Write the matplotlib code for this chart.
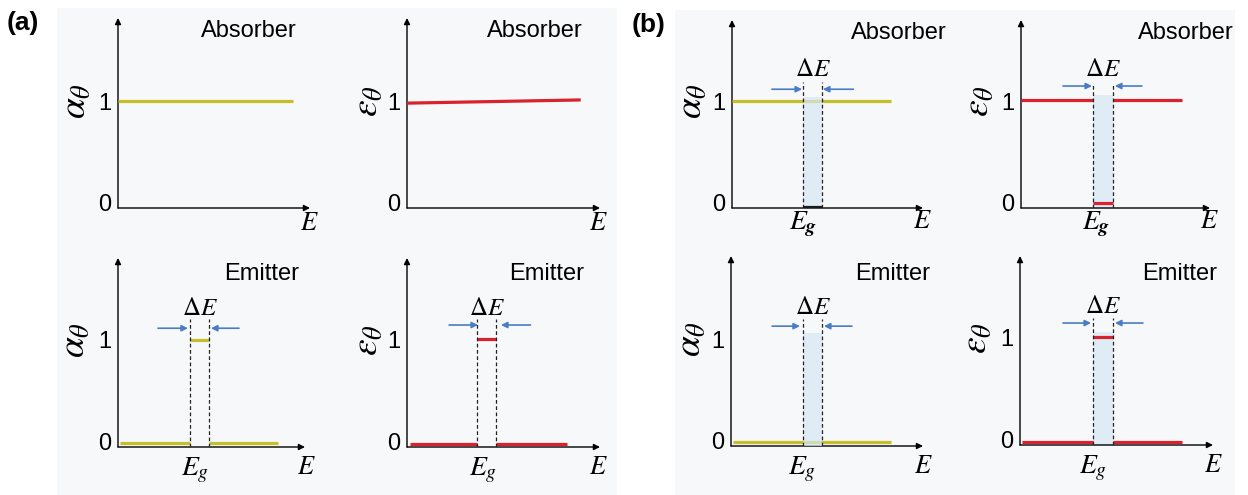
import io
import matplotlib
matplotlib.use("Agg")
import matplotlib.pyplot as plt
from matplotlib.patches import Rectangle
from matplotlib import mathtext

plt.rcParams['font.family'] = ['Liberation Sans', 'DejaVu Sans']
plt.rcParams['mathtext.fontset'] = 'stix'

W, H = 1248, 495

YELLOW = '#c3c02a'
RED = '#d8222e'
BLUE = '#4a7cc6'
SHADE = '#d6e6f3'
BG = '#f7f8fa'

# segments: (x start, x end, y start, y end), x axis runs 0..10, y level 1 = "1"
a_abs_alpha = [(0.0, 9.1, 1.0, 1.0)]
a_abs_eps = [(0.0, 9.0, 0.98, 1.01)]
a_emi_alpha = [(0.1, 3.85, 0.035, 0.035), (3.85, 4.87, 1.0, 1.0), (4.87, 8.56, 0.035, 0.035)]
a_emi_eps = [(0.15, 3.63, 0.025, 0.025), (3.63, 4.61, 1.01, 1.01), (4.61, 8.29, 0.025, 0.025)]
b_abs_alpha = [(0.0, 8.32, 1.0, 1.0)]
b_abs_alpha_gap = [(3.72, 4.71, 0.01, 0.01)]
b_abs_eps = [(0.0, 3.81, 1.01, 1.01), (3.81, 4.87, 0.05, 0.05), (4.87, 8.52, 1.01, 1.01)]
b_emi_alpha = [(0.1, 8.33, 0.04, 0.04)]
b_emi_eps = [(0.1, 3.78, 0.03, 0.03), (3.78, 4.82, 1.01, 1.01), (4.82, 8.39, 0.03, 0.03)]

# gap edges (x) for each panel with a window
gap_a_emi_alpha = (3.85, 4.87)
gap_a_emi_eps = (3.63, 4.61)
gap_b_abs_alpha = (3.72, 4.71)
gap_b_abs_eps = (3.81, 4.87)
gap_b_emi_alpha = (3.75, 4.74)
gap_b_emi_eps = (3.78, 4.82)

# bold italic g if mathtext knows \mathbfit
try:
    mathtext.math_to_image(r'$E_{\mathbfit{g}}$', io.BytesIO(), prop=None, format='png')
    EG_BOLD = r'$E_{\mathbfit{g}}$'
except Exception:
    EG_BOLD = r'$E_{\mathbf{g}}$'

fig = plt.figure(figsize=(W / 100, H / 100), dpi=100)
fig.patches.append(Rectangle((57 / W, 0), 560 / W, 487 / H, transform=fig.transFigure,
                             facecolor=BG, edgecolor='none', zorder=-10))
fig.patches.append(Rectangle((675 / W, 0), 560 / W, 485 / H, transform=fig.transFigure,
                             facecolor=BG, edgecolor='none', zorder=-10))
fig.text(7 / W, 1 - 23 / H, '(a)', fontsize=19, fontweight='bold', va='center')
fig.text(632 / W, 1 - 25 / H, '(b)', fontsize=19, fontweight='bold', va='center')


def make_ax(x0, x1, y0, ytop):
    ax = fig.add_axes([x0 / W, 1 - y0 / H, (x1 - x0) / W, (y0 - ytop) / H])
    ax.set_xlim(0, 10)
    ax.set_ylim(0, (y0 - ytop) / 107)
    ax.patch.set_visible(False)
    for s in ax.spines.values():
        s.set_visible(False)
    ax.set_xticks([])
    ax.set_yticks([0.05, 1])
    ax.set_yticklabels(['0', '1'])
    ax.tick_params(axis='y', length=0, pad=5, labelsize=17)
    arr = dict(arrowstyle='-|>', color='k', lw=1.0, mutation_scale=9, shrinkA=0, shrinkB=0)
    ax.annotate('', xy=(10, 0), xytext=(0, 0), arrowprops=arr, annotation_clip=False)
    ax.annotate('', xy=(0, ax.get_ylim()[1]), xytext=(0, 0), arrowprops=arr, annotation_clip=False)
    return ax


def draw(ax, segs, color, z=3):
    for xs, xe, ys, ye in segs:
        ax.plot([xs, xe], [ys, ye], color=color, lw=2.3, solid_capstyle='butt', zorder=z)


def window(ax, gap, shade_top, dash_top, arrow_y, arrows, shade=True, shade_z=2):
    g0, g1 = gap
    if shade:
        ax.fill_between([g0, g1], 0, shade_top, color=SHADE, alpha=0.7, lw=0, zorder=shade_z)
    for g in gap:
        ax.plot([g, g], [0, dash_top], color='#222222', lw=0.9, ls=(0, (3, 2)), zorder=5)
    (l0, l1), (r0, r1) = arrows
    ap = dict(arrowstyle='-|>', color=BLUE, lw=1.2, mutation_scale=9, shrinkA=0, shrinkB=0)
    ax.annotate('', xy=(l1, arrow_y), xytext=(l0, arrow_y), arrowprops=ap)
    ax.annotate('', xy=(r1, arrow_y), xytext=(r0, arrow_y), arrowprops=ap)
    ax.text((g0 + g1) / 2, 1.3, r'$\Delta E$', fontsize=18, ha='center', va='center')


def labels(ax, ylab, ylab_x, title, title_x, title_y, e_x, e_y, eg=None, bold=False):
    ax.text(ylab_x, 1.0, ylab, fontsize=27, rotation=90, ha='center', va='center')
    ax.text(title_x, title_y, title, fontsize=17, ha='right', va='center')
    ax.text(e_x, e_y, r'$E$', fontsize=19, ha='center', va='center')
    if eg is not None:
        s = EG_BOLD if bold else r'$E_g$'
        ax.text(eg, e_y - 0.03, s, fontsize=20, ha='center', va='center')


alpha_lab = r'$\alpha_\theta$'
eps_lab = r'$\varepsilon_\theta$'

# ---- (a)
ax = make_ax(118, 310, 208, 18)
draw(ax, a_abs_alpha, YELLOW)
labels(ax, alpha_lab, -2.2, 'Absorber', 9.3, 1.65, 9.95, -0.14)

ax = make_ax(407, 600, 208, 18)
draw(ax, a_abs_eps, RED)
labels(ax, eps_lab, -2.05, 'Absorber', 9.1, 1.65, 9.9, -0.14)

ax = make_ax(118, 305, 447, 258)
draw(ax, a_emi_alpha, YELLOW)
window(ax, gap_a_emi_alpha, 1.05, 1.2, 1.11, ((2.14, 3.74), (6.47, 4.97)), shade=False)
labels(ax, alpha_lab, -2.3, 'Emitter', 9.7, 1.62, 10.1, -0.19, eg=4.1)

ax = make_ax(407, 600, 447, 258)
draw(ax, a_emi_eps, RED)
window(ax, gap_a_emi_eps, 1.05, 1.2, 1.14, ((2.18, 3.68), (6.4, 4.87)), shade=False)
labels(ax, eps_lab, -2.05, 'Emitter', 9.2, 1.62, 9.9, -0.19, eg=3.94)

# ---- (b)
ax = make_ax(732, 923, 208, 20)
draw(ax, b_abs_alpha, YELLOW)
draw(ax, b_abs_alpha_gap, '#1a1a1a', z=6)
window(ax, gap_b_abs_alpha, 1.04, 1.18, 1.11, ((2.09, 3.67), (6.36, 4.76)), shade_z=4)
labels(ax, alpha_lab, -2.1, 'Absorber', 11.25, 1.64, 9.95, -0.12, eg=3.7, bold=True)

ax = make_ax(1021, 1210, 208, 20)
draw(ax, b_abs_eps, RED)
window(ax, gap_b_abs_eps, 1.06, 1.15, 1.14, ((2.22, 3.76), (6.4, 4.97)))
labels(ax, eps_lab, -2.25, 'Absorber', 11.25, 1.64, 9.95, -0.12, eg=4.0, bold=True)

ax = make_ax(731, 923, 446, 256)
draw(ax, b_emi_alpha, YELLOW)
window(ax, gap_b_emi_alpha, 1.06, 1.19, 1.12, ((2.14, 3.59), (6.3, 4.84)), shade_z=4)
labels(ax, alpha_lab, -2.1, 'Emitter', 10.35, 1.61, 10.0, -0.19, eg=3.7)

ax = make_ax(1020, 1213, 445, 256)
draw(ax, b_emi_eps, RED)
window(ax, gap_b_emi_eps, 1.06, 1.19, 1.14, ((2.23, 3.68), (6.37, 4.92)))
labels(ax, eps_lab, -2.25, 'Emitter', 10.2, 1.6, 10.0, -0.19, eg=3.79)

fig.savefig('out.png', dpi=100)
